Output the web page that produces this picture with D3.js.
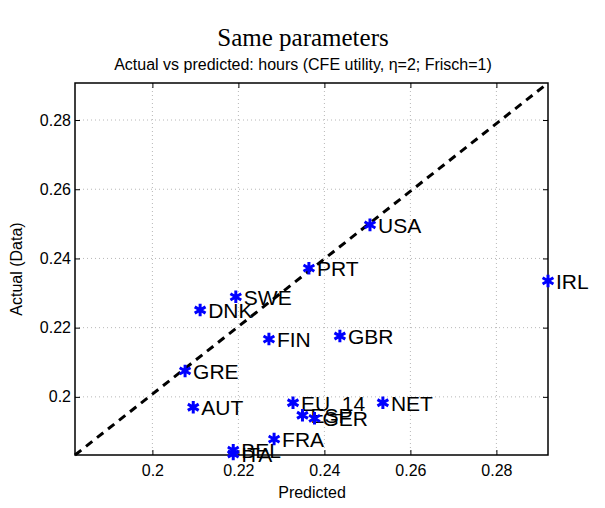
<!DOCTYPE html><html><head><script src="https://cdn.jsdelivr.net/npm/d3@7"></script>
<style>body{margin:0;background:#fff}</style></head><body><svg id="c" width="605" height="508"></svg><script>
const countries=["USA","PRT","SWE","DNK","FIN","GBR","GRE","IRL","AUT","EU_14","NET","ESP","GER","FRA","BEL","ITA"];
const predicted=[0.2506,0.2364,0.2194,0.2111,0.2271,0.2436,0.2076,0.292,0.2095,0.2327,0.2536,0.2349,0.2377,0.2283,0.2188,0.2188];
const actual=[0.2497,0.2372,0.2289,0.2251,0.2167,0.2176,0.2075,0.2335,0.197,0.1983,0.1983,0.1947,0.1938,0.1878,0.1846,0.1835];
const xTicks=[0.2,0.22,0.24,0.26,0.28], yTicks=[0.2,0.22,0.24,0.26,0.28];
const svg=d3.select("#c"), L=75,R=548,T=83,B=455;
const x=d3.scaleLinear([0.182,0.292],[L,R]), y=d3.scaleLinear([0.1832,0.2907],[B,T]);
const g=svg.append("g");
xTicks.forEach(t=>g.append("line").attr("x1",x(t)).attr("x2",x(t)).attr("y1",T).attr("y2",B).attr("stroke","#999").attr("stroke-width",0.7).attr("stroke-dasharray","1,3"));
yTicks.forEach(t=>g.append("line").attr("y1",y(t)).attr("y2",y(t)).attr("x1",L).attr("x2",R).attr("stroke","#999").attr("stroke-width",0.7).attr("stroke-dasharray","1,3"));
svg.append("g").attr("transform",`translate(0,${B})`).call(d3.axisBottom(x).tickValues(xTicks).tickFormat(d3.format("")).tickSize(-5).tickPadding(10)).call(a=>{a.select(".domain").remove();a.selectAll("text").attr("font-family","Liberation Sans, Arial").attr("font-size",16);});
svg.append("g").attr("transform",`translate(${L},0)`).call(d3.axisLeft(y).tickValues(yTicks).tickFormat(d3.format("")).tickSize(-5).tickPadding(4)).call(a=>{a.select(".domain").remove();a.selectAll("text").attr("font-family","Liberation Sans, Arial").attr("font-size",16);});
svg.append("g").attr("transform",`translate(0,${T})`).call(d3.axisTop(x).tickValues(xTicks).tickFormat("").tickSize(-5)).select(".domain").remove();
svg.append("g").attr("transform",`translate(${R},0)`).call(d3.axisRight(y).tickValues(yTicks).tickFormat("").tickSize(-5)).select(".domain").remove();
svg.append("rect").attr("x",L).attr("y",T).attr("width",R-L).attr("height",B-T).attr("fill","none").attr("stroke","#000").attr("stroke-width",1.5);
svg.append("line").attr("x1",L).attr("y1",B).attr("x2",R).attr("y2",T).attr("stroke","#000").attr("stroke-width",3).attr("stroke-dasharray","8,6");
const star=d3.symbol().type(d3.symbolAsterisk).size(110);
countries.forEach((c,i)=>{
 svg.append("path").attr("d",star()).attr("transform",`translate(${x(predicted[i])},${y(actual[i])})`).attr("stroke","#0000ff").attr("stroke-width",3).attr("fill","none");
 svg.append("text").attr("x",x(predicted[i])+8).attr("y",y(actual[i])+8).attr("font-family","Liberation Sans, Arial").attr("font-size",21).text(c);
});
svg.append("text").attr("x",303).attr("y",46).attr("text-anchor","middle").attr("font-family","Liberation Serif, DejaVu Serif").attr("font-size",25).text("Same parameters");
svg.append("text").attr("x",303).attr("y",70).attr("text-anchor","middle").attr("font-family","Liberation Sans, Arial").attr("font-size",16).text("Actual vs predicted: hours (CFE utility, η=2; Frisch=1)");
svg.append("text").attr("x",312).attr("y",498).attr("text-anchor","middle").attr("font-family","Liberation Sans, Arial").attr("font-size",16).text("Predicted");
svg.append("text").attr("transform","translate(22,269) rotate(-90)").attr("text-anchor","middle").attr("font-family","Liberation Sans, Arial").attr("font-size",16).text("Actual (Data)");
</script></body></html>
